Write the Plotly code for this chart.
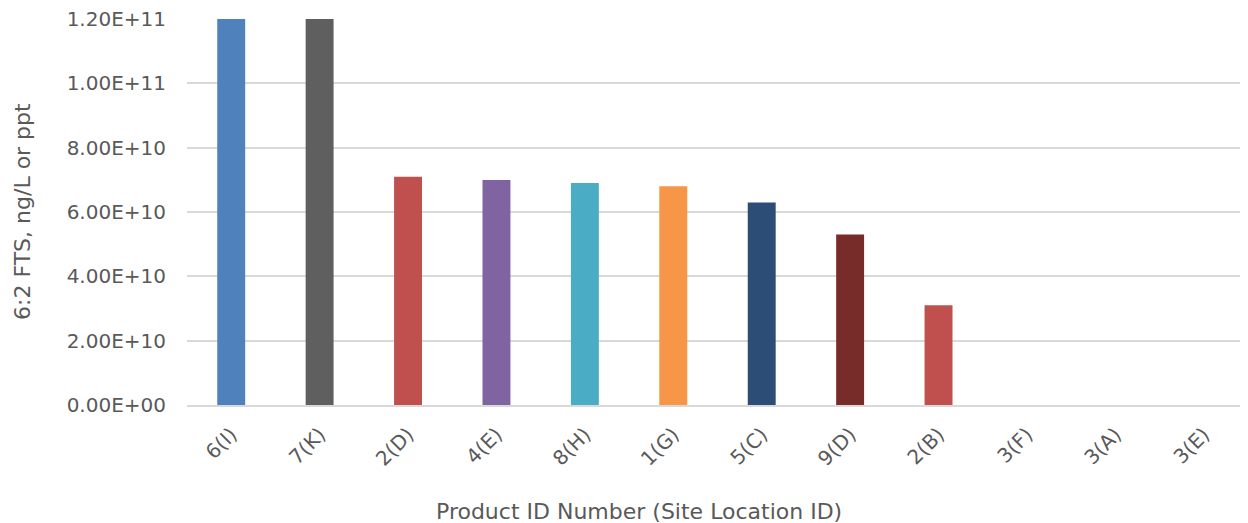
import plotly.graph_objects as go

categories = ["6(I)", "7(K)", "2(D)", "4(E)", "8(H)", "1(G)", "5(C)", "9(D)", "2(B)", "3(F)", "3(A)", "3(E)"]
values = [1.2e11, 1.2e11, 7.1e10, 7.0e10, 6.9e10, 6.8e10, 6.3e10, 5.3e10, 3.1e10, 0, 0, 0]
bar_colors = ["#4F81BD", "#5F5F5F", "#C0504D", "#8064A2", "#4BACC6", "#F79646",
              "#2C4D75", "#772C2A", "#C0504D", "#9BBB59", "#4F81BD", "#5F5F5F"]
y_tickvals = [0, 2e10, 4e10, 6e10, 8e10, 1e11, 1.2e11]
y_ticktext = ["0.00E+00", "2.00E+10", "4.00E+10", "6.00E+10", "8.00E+10", "1.00E+11", "1.20E+11"]

FONT = "DejaVu Sans"
GREY = "#595959"

# page body has an 8px default margin, so the figure is offset by (8, 8)
W, H = 1240, 515
ML, MT, MB = 179, 11, 118
PW = W - ML
PH = H - MT - MB

fig = go.Figure(go.Bar(x=categories, y=values, marker=dict(color=bar_colors, line=dict(width=0)),
                       width=0.316))

fig.update_layout(
    width=W, height=H,
    margin=dict(l=ML, r=0, t=MT, b=MB),
    paper_bgcolor="white", plot_bgcolor="white",
    showlegend=False,
    font=dict(family=FONT, size=20, color=GREY),
)
fig.update_xaxes(
    tickangle=-45, tickfont=dict(family=FONT, size=20, color=GREY),
    showgrid=False, showline=True, linecolor="#D9D9D9", linewidth=2,
    ticks="", ticklabelstandoff=8,
)
fig.update_yaxes(
    range=[0, 1.2003e11], tickvals=y_tickvals, ticktext=y_ticktext,
    tickfont=dict(family=FONT, size=20, color=GREY),
    showgrid=True, gridcolor="#D9D9D9", gridwidth=2,
    zeroline=False, showline=False, ticks="", ticklabelstandoff=20,
    ticklabeloverflow="allow",
)
fig.add_annotation(text="6:2 FTS, ng/L or ppt", xref="paper", yref="paper",
                   x=-(187 - 22) / PW, y=0.5, xanchor="center", yanchor="middle",
                   textangle=-90, showarrow=False,
                   font=dict(family=FONT, size=22, color=GREY))
fig.add_annotation(text="Product ID Number (Site Location ID)", xref="paper", yref="paper",
                   x=(639 - 187) / PW, y=-(511 - 405) / PH, xanchor="center", yanchor="middle",
                   showarrow=False, font=dict(family=FONT, size=22, color=GREY))

fig.write_html("out.html")
